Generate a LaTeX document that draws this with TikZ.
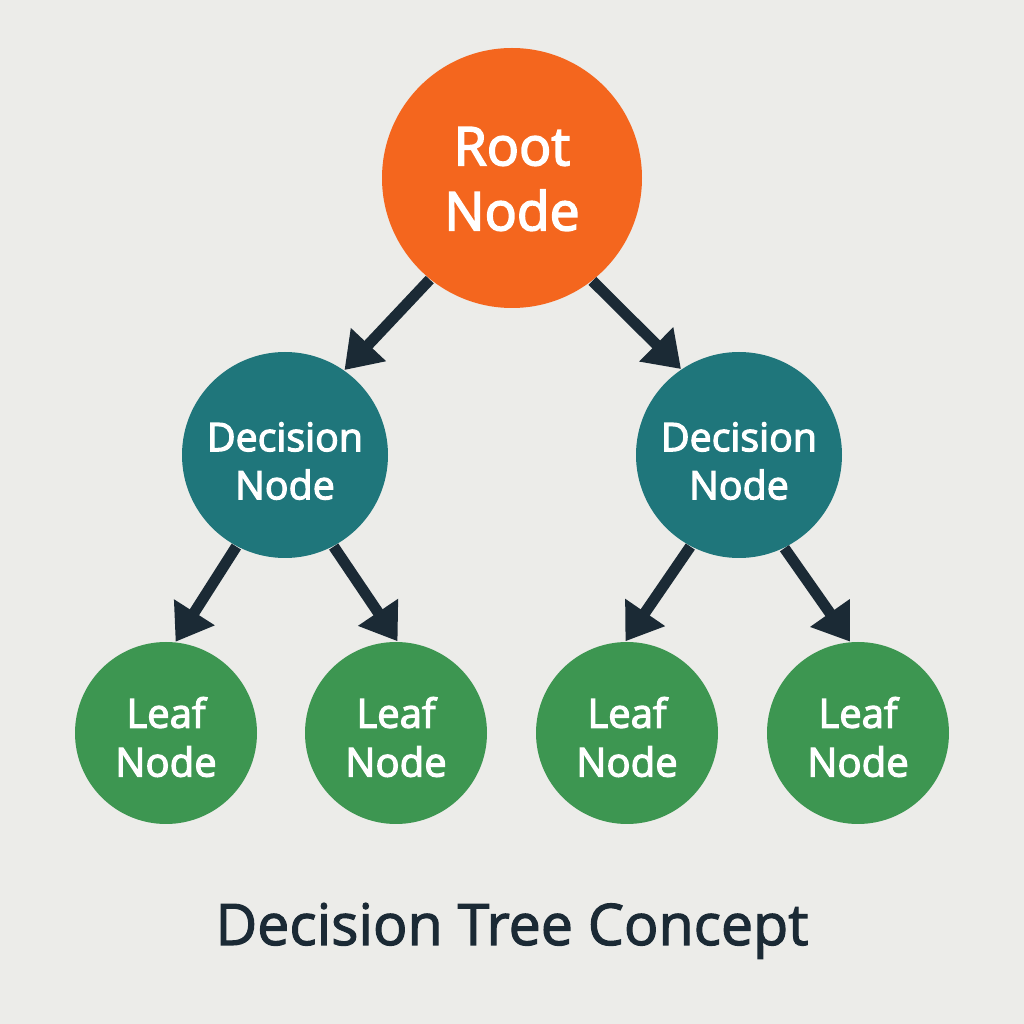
\documentclass[tikz,border=0pt]{standalone}
\usepackage{fontspec}
\setmainfont{Open Sans}
\newfontfamily\labelfont{Open Sans}[FakeBold=3]
\newfontfamily\titlefont{Open Sans}[FakeBold=2]
\usetikzlibrary{arrows.meta}
\definecolor{bgc}{HTML}{ECECE9}
\definecolor{rootc}{HTML}{F4661E}
\definecolor{decc}{HTML}{1F767B}
\definecolor{leafc}{HTML}{3D9651}
\definecolor{inkc}{HTML}{1B2A35}
\tikzset{
  disc/.style={circle, inner sep=0pt},
  txt/.style={text=white, align=center, inner sep=0pt},
  rootnode/.style={disc, fill=rootc, minimum size=2.6cm},
  decnode/.style={disc, fill=decc, minimum size=2.06cm},
  leafnode/.style={disc, fill=leafc, minimum size=1.82cm},
  roottxt/.style={txt, font=\labelfont\fontsize{15.2}{18.5}\selectfont},
  dectxt/.style={txt, font=\labelfont\fontsize{11.2}{13.7}\selectfont},
  leaftxt/.style={txt, font=\labelfont\fontsize{11.4}{13.9}\selectfont},
  link/.style={draw=inkc, line width=0.11cm, -{Triangle[length=3.5mm, width=4.6mm]}}
}
\begin{document}
\begin{tikzpicture}
\useasboundingbox (0,0) rectangle (10.24,10.24);
\fill[bgc] (0,0) rectangle (10.24,10.24);
\node[rootnode] (root) at (5.12,8.46) {};
\node[decnode] (dl) at (2.85,5.69) {};
\node[decnode] (dr) at (7.39,5.69) {};
\node[leafnode] (l1) at (1.66,2.91) {};
\node[leafnode] (l2) at (3.96,2.91) {};
\node[leafnode] (l3) at (6.27,2.91) {};
\node[leafnode] (l4) at (8.58,2.91) {};
\node[roottxt] (roott) at ([yshift=-0.01cm]root.center) {Root\\Node};
\node[dectxt] (dlt) at ([yshift=-0.06cm]dl.center) {Decision\\Node};
\node[dectxt] (drt) at ([yshift=-0.06cm]dr.center) {Decision\\Node};
\node[leaftxt] (l1t) at ([yshift=-0.04cm]l1.center) {Leaf\\Node};
\node[leaftxt] (l2t) at ([yshift=-0.04cm]l2.center) {Leaf\\Node};
\node[leaftxt] (l3t) at ([yshift=-0.04cm]l3.center) {Leaf\\Node};
\node[leaftxt] (l4t) at ([yshift=-0.04cm]l4.center) {Leaf\\Node};
\draw[link] (root.-129) -- (dl.55);
\draw[link] (root.-52) -- (dr.124);
\draw[link] (dl.-118) -- (l1.84);
\draw[link] (dl.-62) -- (l2.89);
\draw[link] (dr.-118) -- (l3.91);
\draw[link] (dr.-64) -- (l4.95);
\node[anchor=base, text=inkc, font=\titlefont\fontsize{16.3}{20}\selectfont] (title) at (5.12,0.79) {Decision Tree Concept};
\end{tikzpicture}
\end{document}
